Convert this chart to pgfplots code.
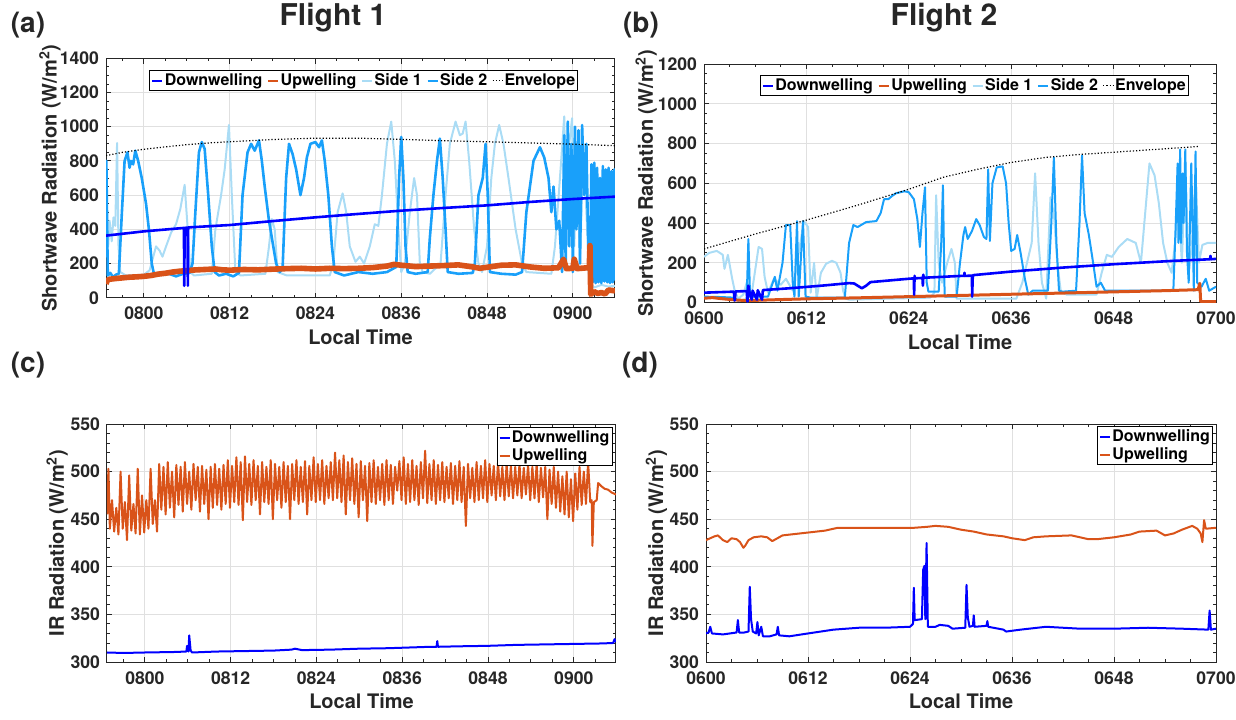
\documentclass[border=0pt]{standalone}
\usepackage{fontspec}
\setmainfont{TeX Gyre Heros}
\usepackage{pgfplots}
\pgfplotsset{compat=1.18}

\definecolor{dwn}{RGB}{0,0,255}
\definecolor{upw}{RGB}{217,83,25}
\definecolor{sd1}{RGB}{170,220,245}
\definecolor{sd2}{RGB}{25,160,250}

\pgfplotsset{
  rad/.style={
    scale only axis, anchor=north west,
    axis line style={black!85, line width=0.5pt},
    grid=major, major grid style={black!12, line width=0.45pt},
    tick align=inside, xtick pos=both, ytick pos=both,
    major tick length=2.6pt, minor tick length=1.5pt,
    every tick/.style={black!85, line width=0.45pt},
    ticklabel style={font=\bfseries\fontsize{8.8}{10}\selectfont, text=black!85},
    /pgf/number format/assume math mode=true,
    /pgf/number format/1000 sep={},
    label style={font=\bfseries\fontsize{10}{12}\selectfont, text=black!85},
    xlabel={Local Time},
    xlabel style={at={(axis description cs:0.5,0)}, anchor=center, yshift=-19.75pt},
    xticklabel style={yshift=-1.2pt},
    legend style={font=\bfseries\fontsize{8}{9.5}\selectfont, draw=black, line width=0.45pt,
      inner sep=0.6pt, nodes={inner sep=0.7pt}, cells={anchor=west}},
    legend image code/.code={\draw[#1] (0pt,0pt) -- (5pt,0pt);},
    every axis plot/.append style={line join=round},
  },
  f1/.style={xmin=-5.3, xmax=65.9, xtick={0,12,...,60},
    xticklabels={0800,0812,0824,0836,0848,0900}, minor xtick={-3,0,...,63}},
  f2/.style={xmin=0, xmax=60, xtick={0,12,...,60},
    xticklabels={0600,0612,0624,0636,0648,0700}, minor xtick={0,3,...,60}},
  sw/.style={ylabel={Shortwave Radiation (W/m\textsuperscript{2})}, legend columns=5,
    legend style={/tikz/every even column/.append style={column sep=1.6pt}}},
  ir/.style={ymin=300, ymax=550, ytick={300,350,...,550}, minor ytick={300,310,...,550},
    ylabel={IR Radiation (W/m\textsuperscript{2})}, legend style={anchor=north east}},
}

\begin{document}
\begin{tikzpicture}
\useasboundingbox (0,0) rectangle (618pt,-359.5pt);

% panel labels and titles
\node[font=\bfseries\fontsize{14}{16}\selectfont, text=black!85] at (14pt,-12.75pt) {(a)};
\node[font=\bfseries\fontsize{14}{16}\selectfont, text=black!85] at (320.5pt,-12.75pt) {(b)};
\node[font=\bfseries\fontsize{14}{16}\selectfont, text=black!85] at (14pt,-182.5pt) {(c)};
\node[font=\bfseries\fontsize{14}{16}\selectfont, text=black!85] at (320pt,-182.5pt) {(d)};
\node[font=\bfseries\fontsize{15}{18}\selectfont, text=black!85, anchor=base] at (166.5pt,-12.5pt) {Flight 1};
\node[font=\bfseries\fontsize{15}{18}\selectfont, text=black!85, anchor=base] at (472pt,-12.5pt) {Flight 2};

% ---------------- (a)
\begin{axis}[rad, f1, sw, at={(53pt,-29.15pt)}, width=254.5pt, height=119.7pt,
  ymin=0, ymax=1400, ytick={0,200,...,1400}, minor ytick={0,50,...,1400},
  ylabel style={at={(axis description cs:-0.110,0.5)}, anchor=center},
  legend style={at={(0.5065,0.95)}, anchor=north}]
\addlegendimage{dwn, line width=1.2pt}\addlegendentry{Downwelling}
\addlegendimage{upw, line width=1.2pt}\addlegendentry{Upwelling}
\addlegendimage{sd1, line width=1.2pt}\addlegendentry{Side 1}
\addlegendimage{sd2, line width=1.2pt}\addlegendentry{Side 2}
\addlegendimage{black, line width=0.6pt, dash pattern=on 0.6pt off 1pt}\addlegendentry{Envelope}
\addplot[forget plot, sd1, line width=1pt] coordinates {
(-5.3,380)(-5.15,460)(-5.0,300)(-4.8,450)(-4.5,330)(-4.25,470)(-4.0,420)(-3.75,905)(-3.55,300)(-3.3,150)
(-2.5,130)(-1,132)(0,135)(0.8,160)(1.7,300)(2.2,275)(2.6,240)(3.1,300)(3.8,380)(4.5,430)(5.1,520)(5.7,660)
(6.1,420)(6.5,150)(7,130)(9.5,140)(10.0,400)(10.8,600)(11.3,750)(11.9,1010)(12.3,600)(12.8,150)(13.5,130)
(17.0,140)(17.5,300)(17.9,460)(18.3,400)(18.7,150)(20,130)(26,130)(26.5,200)(27.1,500)(27.8,610)(28.3,500)
(28.8,300)(29.6,210)(30.2,240)(30.8,200)(31.6,300)(32.3,430)(32.8,420)(33.3,600)(34.0,900)(34.6,1030)
(35.1,800)(35.6,400)(36.0,150)(36.5,200)(37.2,500)(37.8,700)(38.2,600)(38.6,200)(39,150)(40,140)(41.5,200)
(42.2,600)(42.8,900)(43.6,1030)(44.2,950)(44.6,960)(45.0,1030)(45.5,800)(46.2,400)(46.8,200)(47.3,150)
(48.0,300)(48.6,700)(49.1,900)(49.7,1010)(50.3,900)(51,700)(52,400)(52.9,200)(53.5,150)(57,140)(57.5,300)
(58.2,700)(58.8,1060)(59.1,400)(59.5,900)(59.9,1050)(60.2,300)(60.6,800)(61,200)(61.5,900)(62,400)(62.4,150)
(62.6,80)(63,60)(64,75)(65,65)(65.9,70)};
\addplot[forget plot, sd2, line width=1.3pt] coordinates {
(-5.3,300)(-5.25,800)(-5.15,450)(-5.05,130)(-4.7,145)(-4.3,120)(-3.9,135)(-3.5,140)(-3.1,480)(-2.7,800)
(-2.3,850)(-2.0,760)(-1.8,800)(-1.5,780)(-1.2,860)(-0.8,800)(-0.3,700)(0.3,550)(0.7,400)(1.1,200)(1.4,140)
(2.5,135)(3.5,140)(4.5,125)(5.5,140)(6.4,145)(6.8,200)(7.2,500)(7.7,850)(8.1,910)(8.5,870)(9.0,600)(9.5,300)
(9.9,150)(10.5,130)(11.5,140)(12.5,125)(13.3,145)(13.8,600)(14.5,850)(15.0,900)(15.5,860)(16.1,920)(16.5,800)
(16.9,650)(17.5,450)(18.5,200)(19.0,150)(19.4,170)(19.9,700)(20.3,900)(20.8,840)(21.3,750)(21.9,600)
(22.4,700)(22.8,820)(23.3,900)(24.0,910)(24.5,880)(24.9,920)(25.3,800)(25.8,600)(26.3,300)(26.7,150)
(28,130)(30,150)(32,140)(34,150)(35.3,180)(35.7,700)(36.0,940)(36.3,700)(36.6,300)(36.9,150)(38,140)
(39.7,150)(40,350)(40.5,600)(41.0,800)(41.4,930)(41.8,700)(42.2,400)(42.5,150)(44,140)(46,145)(46.3,200)
(46.8,600)(47.4,700)(47.8,900)(48.1,600)(48.4,150)(50,140)(52,135)(52.9,150)(53.5,500)(54.5,800)(55.4,880)
(56.0,820)(56.6,700)(57.0,500)(57.3,650)(57.7,400)(58.1,450)(58.5,150)(58.8,950)(59.0,200)(59.3,1030)
(59.5,300)(59.8,900)(60.0,150)(60.3,1000)(60.5,400)(60.8,980)(61.0,200)(61.3,1010)(61.6,600)(61.9,900)
(62.2,200)(62.4,80)(62.6,780)(62.8,90)(63.0,790)(63.2,85)(63.4,760)(63.6,90)(63.8,700)(64.0,85)(64.2,770)
(64.4,95)(64.6,750)(64.8,90)(65.0,760)(65.2,85)(65.4,740)(65.6,90)(65.8,750)(65.9,100)};
\addplot[forget plot, upw, line width=2.8pt] coordinates {
(-5.3,80)(-5.15,100)(-4.8,108)(-4,112)(-3,116)(-2,120)(-1,122)(0,125)(1,130)(2,138)(3,143)(4,150)(5,155)
(6,158)(7,162)(8,164)(9,166)(10,168)(11,163)(12,161)(14,165)(16,163)(18,167)(20,170)(22,172)(24,168)
(26,172)(28,170)(30,172)(32,176)(34,185)(35,195)(36,190)(38,182)(40,185)(42,188)(44,192)(46,180)(47,172)
(48,178)(50,190)(52,192)(54,180)(56,172)(58,175)(58.7,225)(59.1,170)(60,172)(60.2,225)(60.6,170)(62,175)
(62.3,180)(62.4,305)(62.5,20)(63,35)(63.5,25)(64,30)(64.5,22)(65,45)(65.9,40)};
\addplot[forget plot, dwn, line width=1.3pt] coordinates {
(-5.3,363)(0,388)(5.6,408)(5.65,70)(5.7,408)(6.1,410)(6.15,70)(6.2,411)(12,425)(18,448)(24,470)(30,490)
(36,509)(42,525)(48,540)(54,560)(60,577)(65.9,591)};
\addplot[forget plot, black, line width=0.6pt, dash pattern=on 0.6pt off 1pt] coordinates {
(-5.3,831)(-3,850)(0,868)(3,882)(6,895)(9,905)(12,912)(18,925)(24,933)(30,933)(36,926)(42,918)(48,912)
(54,905)(60,898)(65.9,889)};
\end{axis}

% ---------------- (b)
\begin{axis}[rad, f2, sw, at={(352pt,-32pt)}, width=256pt, height=119.3pt,
  ymin=0, ymax=1200, ytick={0,200,...,1200}, minor ytick={0,50,...,1200},
  ylabel style={at={(axis description cs:-0.113,0.5)}, anchor=center},
  legend style={at={(0.528,0.953)}, anchor=north}]
\addlegendimage{dwn, line width=1.2pt}\addlegendentry{Downwelling}
\addlegendimage{upw, line width=1.2pt}\addlegendentry{Upwelling}
\addlegendimage{sd1, line width=1.2pt}\addlegendentry{Side 1}
\addlegendimage{sd2, line width=1.2pt}\addlegendentry{Side 2}
\addlegendimage{black, line width=0.6pt, dash pattern=on 0.6pt off 1pt}\addlegendentry{Envelope}
\addplot[forget plot, sd1, line width=1pt] coordinates {
(0,230)(0.6,250)(1.5,260)(2.2,240)(2.4,170)(2.8,240)(3.3,120)(3.6,60)(4.0,20)(4.6,40)(5.0,100)(5.5,20)
(6.4,280)(6.8,270)(7.1,130)(7.5,50)(8.2,120)(9.0,90)(9.6,120)(10.4,60)(11.7,410)(12.2,380)(12.5,50)
(12.9,200)(13.2,20)(13.7,150)(14.3,195)(15.0,210)(15.5,200)(16.0,150)(16.3,60)(16.6,20)(17,15)(26.5,25)
(27.0,50)(27.2,540)(27.5,200)(27.9,100)(28.5,200)(29.0,270)(29.4,200)(29.6,20)(30,20)(33,20)(36.6,20)
(37.3,100)(38.4,300)(38.8,650)(39.2,300)(39.6,100)(40.1,20)(40.6,530)(41.0,450)(41.4,200)(41.8,60)
(42.5,40)(46,40)(46.6,150)(47.2,240)(47.8,230)(48.6,280)(49.6,320)(50.6,300)(51.2,200)(51.8,500)
(52.2,700)(52.8,640)(53.3,500)(53.8,300)(54.3,200)(54.8,150)(55.2,300)(55.6,500)(56,200)(56.4,700)
(56.8,150)(57.2,300)(57.6,650)(58.0,200)(58.4,290)(59,300)(60,300)};
\addplot[forget plot, sd2, line width=1pt] coordinates {
(0,30)(2,28)(3.5,25)(4,10)(5,15)(5.2,320)(5.4,30)(6,30)(7.5,30)(8.3,130)(8.6,60)(9.2,200)(9.6,390)
(10.1,390)(10.4,100)(10.6,30)(10.9,410)(11.1,30)(11.6,410)(11.9,30)(12.5,25)(16.5,25)(17.0,300)(17.5,390)
(18,380)(19,405)(20.2,410)(20.7,450)(21.1,520)(21.6,520)(22,535)(22.5,550)(23.5,560)(24.0,555)(24.6,520)
(25,420)(25.3,280)(25.6,450)(25.9,580)(26.1,100)(26.3,55)(27.5,55)(27.8,300)(28.0,590)(28.2,30)(29.6,30)
(30.0,200)(30.4,340)(30.6,380)(30.9,320)(31.4,360)(31.9,420)(32.3,390)(32.8,330)(33.1,320)(33.3,670)
(33.5,310)(33.8,600)(34.3,680)(35.0,685)(35.4,600)(35.7,400)(36.0,260)(36.4,270)(36.7,340)(37.1,250)
(37.6,120)(38,40)(38.5,60)(40.3,60)(40.7,400)(41.0,730)(41.3,300)(41.6,60)(42,55)(43.6,60)(44.0,400)
(44.3,740)(44.6,450)(45.1,340)(45.6,200)(46,80)(46.5,100)(47,60)(55,60)(55.3,420)(55.5,700)(55.6,300)
(55.8,770)(55.9,300)(56.1,650)(56.2,400)(56.4,770)(56.6,250)(56.8,100)(57.1,700)(57.3,300)(57.4,60)
(57.6,760)(57.8,100)(58.3,80)(58.8,120)(59.2,60)(60,80)};
\addplot[forget plot, upw, line width=1.5pt] coordinates {
(0,22)(1,25)(2,20)(3.5,14)(5,10)(8,14)(12,19)(18,24)(24,30)(30,36)(36,42)(42,48)(48,54)(54,60)(57.9,65)
(58.1,97)(58.2,5)(60,5)};
\addplot[forget plot, dwn, line width=1.3pt] coordinates {
(0,50)(3.5,55)(3.6,10)(3.7,56)(5.0,58)(5.1,5)(5.2,85)(5.3,58)(5.6,15)(5.7,60)(6.2,15)(6.3,62)(6.8,15)
(6.9,63)(10,72)(14,86)(17,98)(17.6,96)(18.5,72)(19.0,85)(19.5,103)(24,120)(24.6,122)(24.62,40)(24.68,135)
(24.7,122)(25.6,124)(25.65,85)(25.7,140)(25.75,125)(30,134)(30.5,135)(30.52,150)(30.55,134)(31.4,136)
(31.42,30)(31.5,138)(36,156)(42,176)(48,193)(55,210)(59.3,218)(59.35,235)(59.4,218)(60,220)};
\addplot[forget plot, black, line width=0.6pt, dash pattern=on 0.6pt off 1pt] coordinates {
(0,270)(6,345)(12,415)(18,490)(24,570)(28,630)(32,670)(36,705)(40,730)(44,745)(50,762)(57.9,785)};
\end{axis}

% ---------------- (c)
\begin{axis}[rad, f1, ir, at={(53.5pt,-212pt)}, width=254.5pt, height=119pt,
  ylabel style={at={(axis description cs:-0.098,0.5)}, anchor=center},
  legend style={at={(0.993,0.986)}}]
\addlegendimage{dwn, line width=1pt}\addlegendentry{Downwelling}
\addlegendimage{upw, line width=1pt}\addlegendentry{Upwelling}
\addplot[forget plot, dwn, line width=1pt] coordinates {
(-5.3,310)(-3,309.5)(0,310)(4,310.5)(5.8,311)(5.9,317)(6.1,311)(6.2,328)(6.4,312)(6.6,310)(10,311)(14,311.5)
(18,312)(20.5,313)(21,314)(22,312.5)(26,313)(30,314)(34,314.5)(36,315)(40,316)(40.8,316)(40.9,322)(41.0,316)
(44,316.5)(48,317)(52,318)(56,318.5)(60,319)(64,319.5)(65.5,320)(65.7,324)(65.9,321)};
\addplot[forget plot, upw, line width=1pt] coordinates {
(-5.3,455)(-5.1,503)(-4.9,440)(-4.6,470)(-4.3,437)(-4.0,462)(-3.7,434)(-3.4,500)(-3.1,440)(-2.8,468)
(-2.5,428)(-2.2,496)(-1.9,438)(-1.6,466)(-1.3,435)(-1.0,503)(-0.7,434)(-0.4,475)(-0.1,436)(0.2,470)
(0.5,440)(0.8,503)(1.1,445)(1.4,470)(1.7,437)(2.0,508)(2.3,460)(2.6,505)(2.9,455)(3.2,510)(3.5,462)
(3.8,500)(4.1,452)(4.4,507)(4.7,465)(5.0,505)(5.3,458)(5.6,510)(5.9,466)(6.2,500)(6.5,460)(6.8,508)
(7.1,470)(7.4,505)(7.7,458)(8.0,506)(8.3,466)(8.6,502)(8.9,450)(9.2,505)(9.5,462)(9.8,508)(10.1,465)
(10.4,503)(10.7,460)(11.0,507)(11.3,466)(11.6,512)(11.9,462)(12.2,506)(12.5,468)(12.8,515)(13.1,465)
(13.4,510)(13.7,449)(14.0,516)(14.3,468)(14.6,508)(14.9,465)(15.2,512)(15.5,470)(15.8,506)(16.1,455)
(16.4,510)(16.7,468)(17.0,505)(17.3,466)(17.6,512)(17.9,450)(18.2,508)(18.5,470)(18.8,505)(19.1,462)
(19.4,510)(19.7,468)(20.0,506)(20.3,450)(20.6,508)(20.9,470)(21.2,512)(21.5,466)(21.8,505)(22.1,468)
(22.4,511)(22.7,455)(23.0,506)(23.3,470)(23.6,515)(23.9,468)(24.2,508)(24.5,470)(24.8,512)(25.1,466)
(25.4,506)(25.7,472)(26.0,510)(26.3,470)(26.6,520)(26.9,472)(27.2,512)(27.5,468)(27.8,517)(28.1,455)
(28.4,510)(28.7,470)(29.0,514)(29.3,466)(29.6,508)(29.9,452)(30.2,511)(30.5,470)(30.8,506)(31.1,448)
(31.4,509)(31.7,468)(32.0,512)(32.3,466)(32.6,505)(32.9,470)(33.2,508)(33.5,465)(33.8,512)(34.1,470)
(34.4,507)(34.7,466)(35.0,505)(35.3,480)(35.6,511)(35.9,470)(36.2,515)(36.5,466)(36.8,508)(37.1,468)
(37.4,512)(37.7,470)(38.0,506)(38.3,465)(38.6,510)(38.9,472)(39.2,522)(39.5,467)(39.8,508)(40.1,470)
(40.4,512)(40.7,466)(41.0,507)(41.3,470)(41.6,510)(41.9,468)(42.2,505)(42.5,472)(42.8,509)(43.1,466)
(43.4,506)(43.7,470)(44.0,511)(44.3,468)(44.6,505)(44.9,443)(45.2,508)(45.5,472)(45.8,504)(46.1,468)
(46.4,510)(46.7,470)(47.0,506)(47.3,472)(47.6,512)(47.9,468)(48.2,508)(48.5,475)(48.8,506)(49.1,470)
(49.4,510)(49.7,474)(50.0,505)(50.3,470)(50.6,508)(50.9,474)(51.2,506)(51.5,472)(51.8,505)(52.1,475)
(52.4,508)(52.7,472)(53.0,504)(53.3,476)(53.6,507)(53.9,470)(54.2,505)(54.5,472)(54.8,508)(55.1,468)
(55.4,504)(55.7,473)(56.0,505)(56.3,450)(56.6,502)(56.9,466)(57.2,505)(57.5,462)(57.8,500)(58.1,458)
(58.4,495)(58.7,455)(59.0,500)(59.3,452)(59.6,492)(59.9,448)(60.2,498)(60.5,460)(60.8,505)(61.1,465)
(61.4,500)(61.7,466)(62.0,510)(62.3,468)(62.5,470)(62.6,422)(62.8,468)(63.2,470)(63.4,488)(63.8,485)
(64.3,482)(64.8,481)(65.3,478)(65.9,476)};
\end{axis}

% ---------------- (d)
\begin{axis}[rad, f2, ir, at={(353pt,-212pt)}, width=255pt, height=119pt,
  ylabel style={at={(axis description cs:-0.097,0.5)}, anchor=center},
  legend style={at={(0.994,0.99)}}]
\addlegendimage{dwn, line width=1pt}\addlegendentry{Downwelling}
\addlegendimage{upw, line width=1pt}\addlegendentry{Upwelling}
\addplot[forget plot, upw, line width=1pt] coordinates {
(0,428)(0.5,430)(1,432)(1.4,433)(2,428)(2.5,426)(3,430)(3.6,429)(4.0,426)(4.4,420)(4.6,422)(5.0,428)
(5.6,431)(6.5,432)(7.2,431)(7.8,427)(8.4,430)(9,433)(10,434)(12,436)(14,438)(15.5,441)(17,441)(20,441)
(22,441)(24.5,441)(26,442)(27,443)(28.5,442)(30,439)(31.5,437)(33,434)(35,432)(36,430)(37.5,428)
(38.5,431)(40,432)(43,433)(44,431)(45,429)(46,429)(48,431)(50,434)(51,437)(53,438)(54,433)(55,435)
(56,439)(57.2,443)(57.8,440)(58.2,435)(58.4,426)(58.6,449)(58.8,440)(60,441)};
\addplot[forget plot, dwn, line width=1pt] coordinates {
(0,330)(0.3,331)(0.5,337)(0.7,330)(2,329)(3.6,331)(3.75,344)(3.9,331)(4.5,331)(5.0,332)(5.15,379)
(5.3,345)(5.5,332)(5.9,330)(6.05,342)(6.2,328)(6.5,337)(6.7,327)(7.5,327)(8.3,329)(8.45,337)(8.6,328)
(9.8,327)(12,330)(15,334)(18,336)(21,336)(24,337)(24.35,340)(24.45,378)(24.55,344)(25.4,345)(25.55,397)
(25.7,401)(25.8,345)(25.95,425)(26.1,337)(27,337)(27.5,339)(28.5,338)(29,335)(30.5,336)(30.65,381)
(30.8,347)(31,337)(31.4,338)(31.5,349)(31.6,337)(33.0,338)(33.1,343)(33.2,337)(35,334)(35.3,332)(37,334)
(40,337)(44,335)(48,335)(52,336)(56,335)(59.1,334)(59.25,354)(59.4,334)(60,335)};
\end{axis}
\end{tikzpicture}
\end{document}
